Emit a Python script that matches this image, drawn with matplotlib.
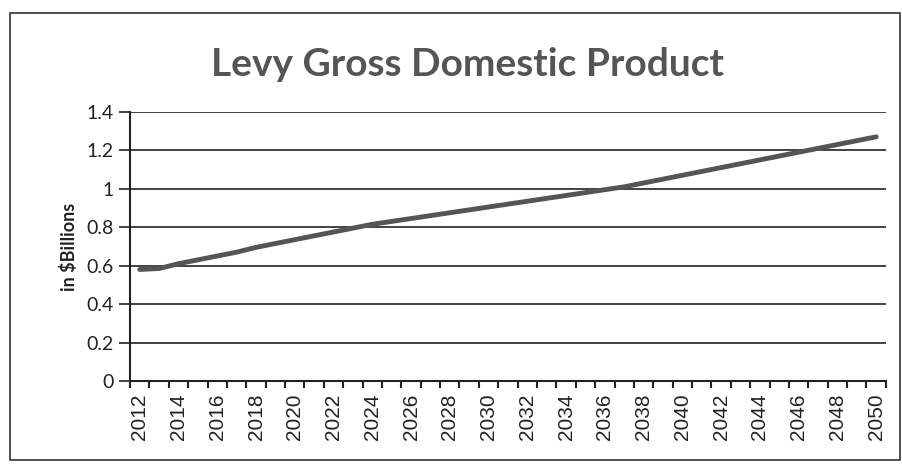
import matplotlib
matplotlib.use('Agg')
import matplotlib.pyplot as plt
from matplotlib.patches import Rectangle
import numpy as np

years = list(range(2012, 2051))
gdp = [0.58, 0.585, 0.61, 0.63, 0.65, 0.67, 0.695, 0.715, 0.735, 0.755,
       0.775, 0.795, 0.815, 0.83, 0.845, 0.86, 0.875, 0.89, 0.905, 0.92,
       0.935, 0.95, 0.965, 0.98, 0.995, 1.01, 1.03, 1.05, 1.07, 1.09,
       1.11, 1.13, 1.15, 1.17, 1.19, 1.21, 1.23, 1.25, 1.27]
yticks = [0, 0.2, 0.4, 0.6, 0.8, 1, 1.2, 1.4]
ytick_labels = ['0', '0.2', '0.4', '0.6', '0.8', '1', '1.2', '1.4']

fig = plt.figure(figsize=(9.03, 4.68), dpi=100)
ax = fig.add_axes([0.144, 0.186, 0.837, 0.575])

# outer chart border
fig.patches.append(Rectangle((0.011, 0.018), 0.986, 0.955, transform=fig.transFigure,
                             fill=False, edgecolor='#333333', linewidth=1.2))

x = np.arange(len(years))
ax.plot(x, gdp, color='#555555', linewidth=3.5, solid_capstyle='round')

ax.set_xlim(-0.5, len(years) - 0.5)
ax.set_ylim(0, 1.4)
ax.set_yticks(yticks)
ax.set_yticklabels(ytick_labels, fontsize=14, color='#222222', family='Lato')
for yv in yticks[1:]:
    ax.axhline(yv, color='#222222', linewidth=1.2, zorder=0)

ax.set_xticks(x[::2])
ax.set_xticklabels([str(y) for y in years[::2]], rotation=90, fontsize=15,
                   color='#222222', family='Liberation Sans')
ax.set_xticks(np.arange(-0.5, len(years)), minor=True)
ax.tick_params(axis='x', which='major', length=0, pad=9)
ax.tick_params(axis='x', which='minor', length=5, width=1.5, color='#222222')
ax.tick_params(axis='y', length=8, width=1.2, color='#222222', pad=4)

for side in ['top', 'right']:
    ax.spines[side].set_visible(False)
ax.spines['left'].set_linewidth(1.5)
ax.spines['bottom'].set_linewidth(1.5)
ax.spines['left'].set_color('#222222')
ax.spines['bottom'].set_color('#222222')

ax.set_ylabel('in $Billions', fontsize=13, fontweight='bold', color='#222222',
              labelpad=6, family='Lato')
fig.text(0.518, 0.862, 'Levy Gross Domestic Product', ha='center', va='center',
         fontsize=28, fontweight='bold', color='#555555', family='Lato')

fig.savefig('out.png', dpi=100)
